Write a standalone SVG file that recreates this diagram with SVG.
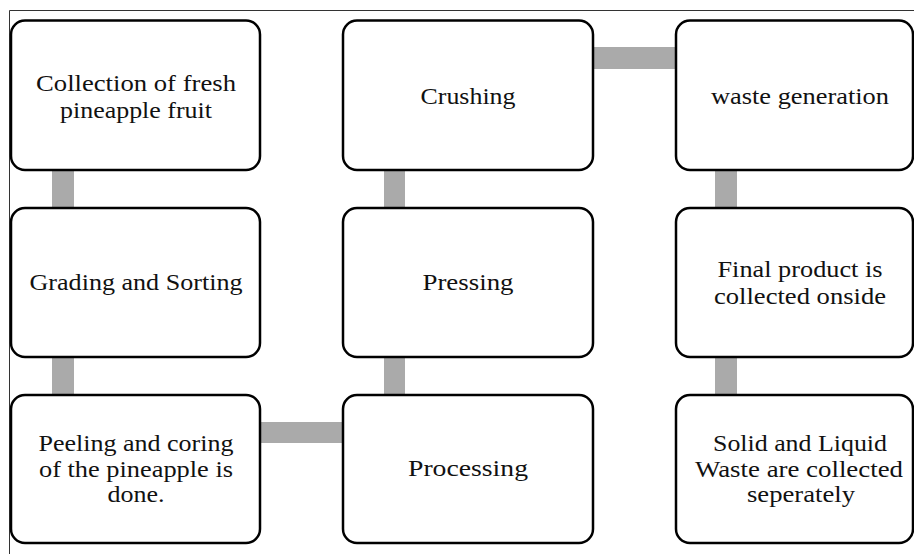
<svg xmlns="http://www.w3.org/2000/svg" width="914" height="554" viewBox="0 0 914 554">
<style>
.box{fill:#fff;stroke:#000;stroke-width:2.5}
.lbl{font-family:"Liberation Serif","Times New Roman",serif;font-size:23px;fill:#111;text-anchor:middle}
.con{fill:#aaaaaa;stroke:none}
.frame{stroke:#333;stroke-width:1;fill:none}
</style>
<rect width="914" height="554" fill="#fff"/>
<path class="frame" d="M9.5 554V10.5H914"/>
<g id="connectors">
<rect class="con" x="52" y="170" width="22" height="38"/>
<rect class="con" x="52" y="357" width="22" height="38"/>
<rect class="con" x="260" y="422" width="83" height="21"/>
<rect class="con" x="384" y="357" width="21" height="38"/>
<rect class="con" x="384" y="170" width="21" height="38"/>
<rect class="con" x="593" y="47" width="83" height="22"/>
<rect class="con" x="715" y="170" width="22" height="38"/>
<rect class="con" x="715" y="357" width="22" height="38"/>
</g>
<g id="n1"><rect class="box" x="11" y="20.5" width="249" height="149.5" rx="14"/><text class="lbl" x="136" y="91" textLength="200" lengthAdjust="spacingAndGlyphs">Collection of fresh</text><text class="lbl" x="136" y="118" textLength="152" lengthAdjust="spacingAndGlyphs">pineapple fruit</text></g>
<g id="n2"><rect class="box" x="11" y="208" width="249" height="149" rx="14"/><text class="lbl" x="136" y="290" textLength="213" lengthAdjust="spacingAndGlyphs">Grading and Sorting</text></g>
<g id="n3"><rect class="box" x="11" y="395" width="249" height="148" rx="14"/><text class="lbl" x="136" y="451" textLength="195" lengthAdjust="spacingAndGlyphs">Peeling and coring</text><text class="lbl" x="136" y="476.5" textLength="194" lengthAdjust="spacingAndGlyphs">of the pineapple is</text><text class="lbl" x="136" y="502" textLength="57" lengthAdjust="spacingAndGlyphs">done.</text></g>
<g id="n4"><rect class="box" x="343" y="395" width="250" height="148" rx="14"/><text class="lbl" x="468" y="476" textLength="120" lengthAdjust="spacingAndGlyphs">Processing</text></g>
<g id="n5"><rect class="box" x="343" y="208" width="250" height="149" rx="14"/><text class="lbl" x="468" y="290" textLength="91" lengthAdjust="spacingAndGlyphs">Pressing</text></g>
<g id="n6"><rect class="box" x="343" y="20.5" width="250" height="149.5" rx="14"/><text class="lbl" x="468" y="104" textLength="95" lengthAdjust="spacingAndGlyphs">Crushing</text></g>
<g id="n7"><rect class="box" x="676" y="20.5" width="237" height="149.5" rx="14"/><text class="lbl" x="800" y="104" textLength="178" lengthAdjust="spacingAndGlyphs">waste generation</text></g>
<g id="n8"><rect class="box" x="676" y="208" width="237" height="149" rx="14"/><text class="lbl" x="800" y="277" textLength="165" lengthAdjust="spacingAndGlyphs">Final product is</text><text class="lbl" x="800" y="304" textLength="172" lengthAdjust="spacingAndGlyphs">collected onside</text></g>
<g id="n9"><rect class="box" x="676" y="395" width="237" height="148" rx="14"/><text class="lbl" x="800" y="451" textLength="174" lengthAdjust="spacingAndGlyphs">Solid and Liquid</text><text class="lbl" x="799" y="476.5" textLength="208" lengthAdjust="spacingAndGlyphs">Waste are collected</text><text class="lbl" x="801" y="502" textLength="108" lengthAdjust="spacingAndGlyphs">seperately</text></g>
</svg>
